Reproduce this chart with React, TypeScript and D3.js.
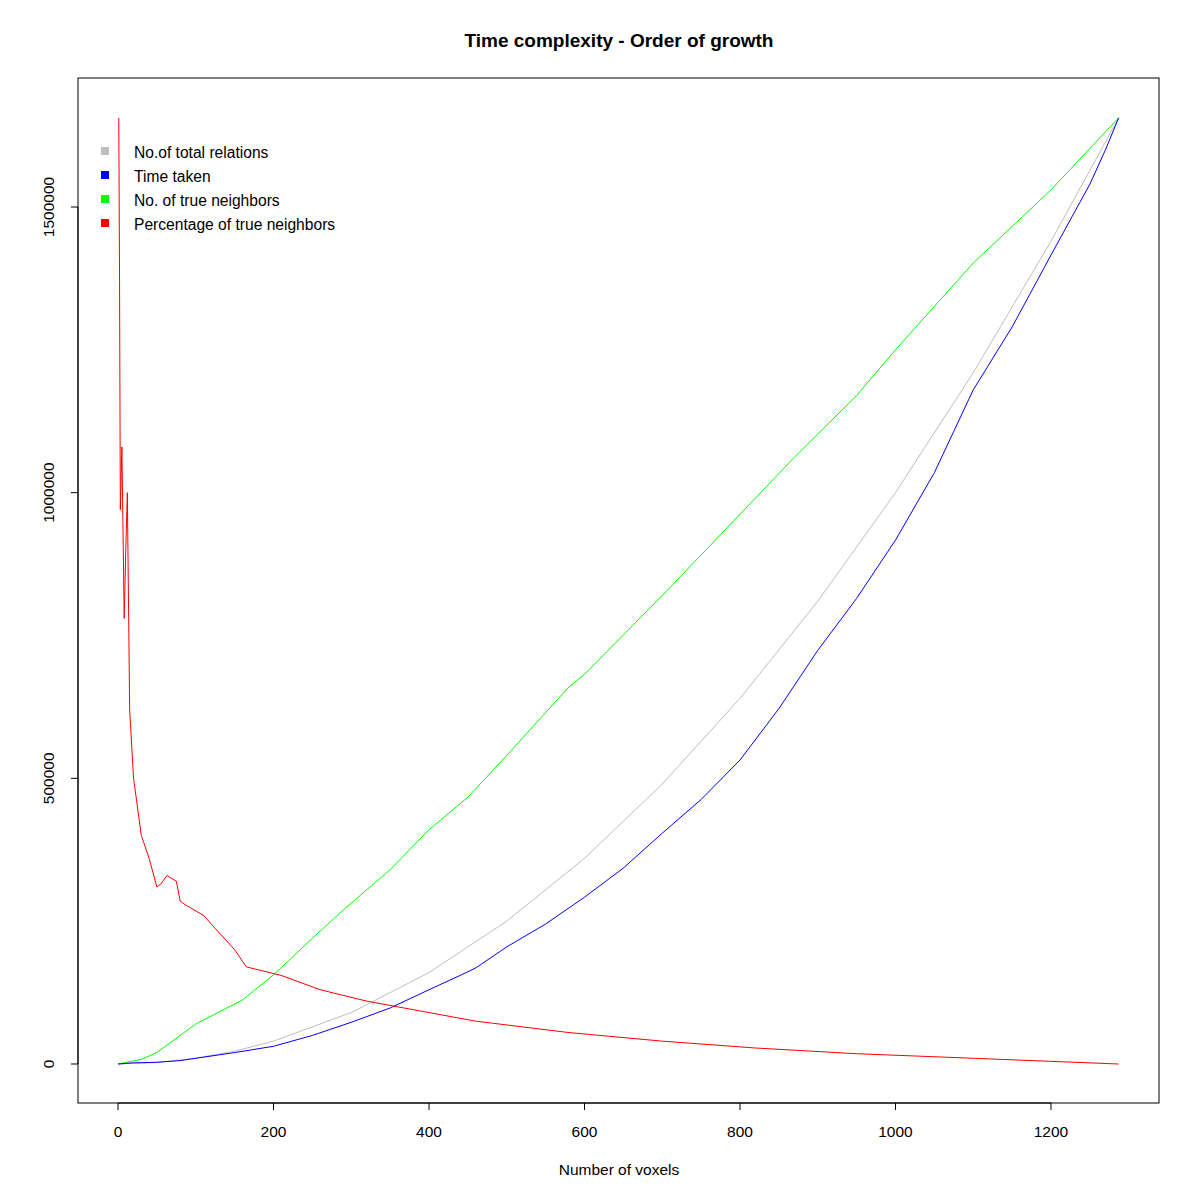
import React from 'react';
import * as d3 from 'd3';

const totalX = [0, 50, 100, 150, 200, 300, 400, 500, 600, 700, 800, 900, 1000, 1100, 1200, 1287];
const totalY = [0, 2500, 10000, 22500, 40000, 90000, 160000, 250000, 360000, 490000, 640000, 810000, 1000000, 1210000, 1440000, 1656000];

const timeX = [0, 20, 50, 80, 100, 150, 200, 250, 300, 350, 400, 440, 460, 500, 550, 600, 650, 700, 750, 800, 850, 900, 950, 1000, 1050, 1100, 1150, 1200, 1250, 1270, 1287];
const timeY = [0, 2000, 3000, 6000, 10000, 20000, 31000, 50000, 73000, 98000, 130000, 155000, 168000, 205000, 245000, 292000, 343000, 404000, 463000, 532000, 622000, 724000, 815000, 917000, 1035000, 1180000, 1290000, 1416000, 1540000, 1600000, 1656000];

const trueX = [0, 30, 50, 100, 160, 200, 250, 290, 350, 400, 450, 500, 580, 600, 700, 750, 870, 950, 1000, 1100, 1200, 1287];
const trueY = [0, 8000, 20000, 70000, 112000, 156000, 220000, 270000, 340000, 410000, 467000, 540000, 660000, 682000, 820000, 891000, 1062000, 1170000, 1250000, 1402000, 1530000, 1656000];

const pctX = [1, 2, 3, 5, 8, 10, 12, 15, 20, 30, 40, 50, 55, 63, 75, 80, 85, 110, 150, 165, 210, 260, 320, 400, 460, 580, 700, 820, 950, 1100, 1287];
const pctY = [1656000, 1370000, 970000, 1080000, 780000, 900000, 1000000, 620000, 500000, 400000, 360000, 310000, 315000, 330000, 320000, 285000, 280000, 260000, 200000, 170000, 155000, 130000, 110000, 90000, 75000, 55000, 40000, 28000, 18000, 10000, 0];

const legendLabels = ['No.of total relations', 'Time taken', 'No. of true neighbors', 'Percentage of true neighbors'];
const legendColors = ['#bebebe', '#0000ff', '#00ff00', '#ff0000'];
const xTicks = [0, 200, 400, 600, 800, 1000, 1200];
const yTicks = [0, 500000, 1000000, 1500000];

export default function App() {
  const W = 1200, H = 1200;
  const box = { l: 78, r: 1159, t: 78, b: 1103 };
  const x = d3.scaleLinear().domain([0, 1200]).range([118, 1051]);
  const y = d3.scaleLinear().domain([0, 1500000]).range([1064, 207]);
  const line = (xs: number[], ys: number[]) =>
    d3.line<number>().x((_, i) => x(xs[i])).y((v) => y(v))(ys) ?? '';
  const font = 'Liberation Sans, Arial, sans-serif';
  const series = [
    { xs: totalX, ys: totalY, c: legendColors[0] },
    { xs: trueX, ys: trueY, c: legendColors[2] },
    { xs: timeX, ys: timeY, c: legendColors[1] },
    { xs: pctX, ys: pctY, c: legendColors[3] },
  ];
  return (
    <svg width={W} height={H} style={{ position: 'absolute', left: 0, top: 0, background: '#fff' }} fontFamily={font}>
      <rect width={W} height={H} fill="#fff" />
      <text x={619} y={47} textAnchor="middle" fontWeight="bold" fontSize={19}>Time complexity - Order of growth</text>
      {series.map((s, i) => (
        <path key={i} d={line(s.xs, s.ys)} fill="none" stroke={s.c} strokeWidth={1} />
      ))}
      <rect x={box.l} y={box.t} width={box.r - box.l} height={box.b - box.t} fill="none" stroke="#000" />
      <line x1={x(0)} x2={x(1200)} y1={box.b} y2={box.b} stroke="#000" />
      {xTicks.map((t) => (
        <g key={t}>
          <line x1={x(t)} x2={x(t)} y1={box.b} y2={box.b + 7} stroke="#000" />
          <text x={x(t)} y={1137} textAnchor="middle" fontSize={15.5}>{t}</text>
        </g>
      ))}
      <line x1={box.l} x2={box.l} y1={y(0)} y2={y(1500000)} stroke="#000" />
      {yTicks.map((t) => (
        <g key={t}>
          <line x1={box.l - 7} x2={box.l} y1={y(t)} y2={y(t)} stroke="#000" />
          <text transform={`translate(54,${y(t)}) rotate(-90)`} textAnchor="middle" fontSize={15.5}>{t}</text>
        </g>
      ))}
      <text x={619} y={1175} textAnchor="middle" fontSize={15.5}>Number of voxels</text>
      {legendLabels.map((l, i) => (
        <g key={l}>
          <rect x={101} y={147 + i * 24} width={8} height={8} fill={legendColors[i]} />
          <text x={134} y={158 + i * 24} fontSize={15.6}>{l}</text>
        </g>
      ))}
    </svg>
  );
}
